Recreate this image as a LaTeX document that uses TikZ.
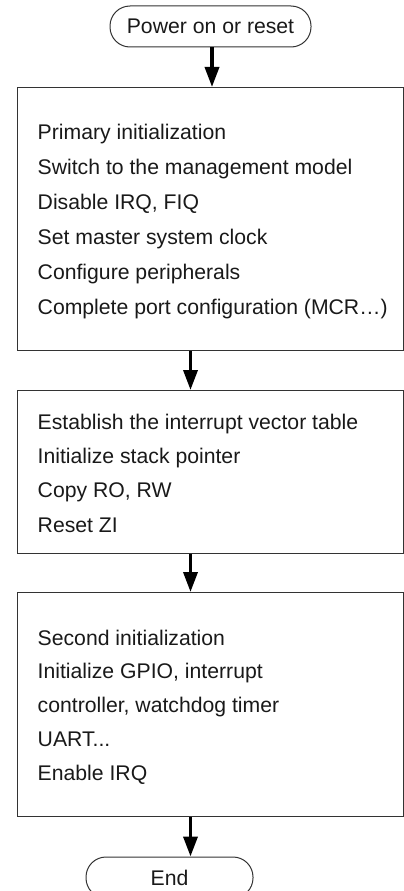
\documentclass[tikz,border=0pt]{standalone}
\usepackage{fontspec}
\setmainfont{Liberation Sans}
\usetikzlibrary{arrows.meta}
\begin{document}
\begin{tikzpicture}
	[x=1pt,y=-1pt,
	termnode/.style={draw=black!80,line width=1pt,rounded corners=20pt,minimum width=201pt,minimum height=41pt,inner sep=0pt,font=\fontsize{21.2}{25}\selectfont,text=black!90},
	boxnode/.style={draw=black!80,line width=1pt,minimum width=386pt,inner sep=0pt,anchor=north west},
	txtnode/.style={anchor=base west,inner sep=0pt,font=\fontsize{21.2}{25}\selectfont,text=black!90},
	myarrow/.style={line width=3.5pt,-{Triangle[length=20pt,width=14pt]}},]
	\useasboundingbox (0,0) rectangle (404,891);
	\node[termnode,name=start] at (210.5,26.5) {Power on or reset};
	\node[boxnode,name=box1,minimum height=263pt] at (17,87) {};
	\node[boxnode,name=box2,minimum height=163pt] at (17,390) {};
	\node[boxnode,name=box3,minimum height=224pt] at (17,592) {};
	\node[termnode,name=stop,minimum width=167pt] at (169.5,877.5) {End};
	\foreach \t [count=\i] in {Primary initialization,Switch to the management model,{Disable IRQ, FIQ},Set master system clock,Configure peripherals,Complete port configuration (MCR…)}
	{
		\node[txtnode,name=l1-\i] at (37.5,{139.3+(\i-1)*35.1}) {\t};
	}
	\foreach \t [count=\i] in {Establish the interrupt vector table,Initialize stack pointer,{Copy RO, RW},Reset ZI}
	{
		\node[txtnode,name=l2-\i] at (37.5,{429.3+(\i-1)*34.3}) {\t};
	}
	\foreach \t [count=\i] in {Second initialization,{Initialize GPIO, interrupt},{controller, watchdog timer},{UART.{}.{}.},Enable IRQ}
	{
		\node[txtnode,name=l3-\i] at (37.5,{645+(\i-1)*33.9}) {\t};
	}
	\draw[myarrow] ([xshift=1.5pt]start.south) -- ([xshift=1.5pt]start.south |- box1.north);
	\draw[myarrow] ([xshift=-20pt]box1.south) -- ([xshift=-20pt]box2.north);
	\draw[myarrow] ([xshift=-20pt]box2.south) -- ([xshift=-20pt]box3.north);
	\draw[myarrow] ([xshift=-20pt]box3.south) -- ([xshift=-20pt]box3.south |- stop.north);
\end{tikzpicture}
\end{document}
